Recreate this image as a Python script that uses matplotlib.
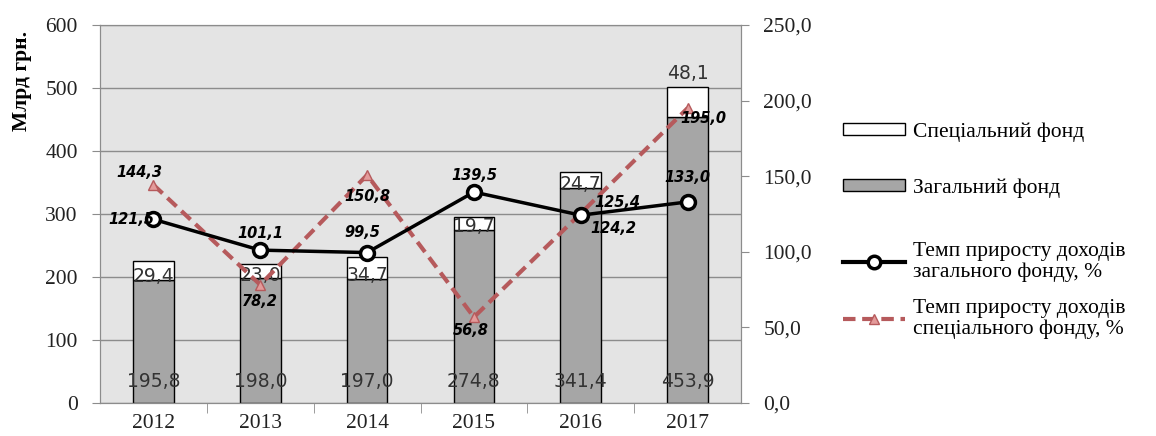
import matplotlib.pyplot as plt
from matplotlib.patches import Patch
from matplotlib.lines import Line2D
from matplotlib.ticker import FuncFormatter

# дані: доходи державного бюджету, млрд грн
years = ['2012', '2013', '2014', '2015', '2016', '2017']
zagalnyi = [195.8, 198.0, 197.0, 274.8, 341.4, 453.9]
spetsialnyi = [29.4, 23.0, 34.7, 19.7, 24.7, 48.1]
temp_zag = [121.5, 101.1, 99.5, 139.5, 124.2, 133.0]
temp_spec = [144.3, 78.2, 150.8, 56.8, 125.4, 195.0]

def fmt(v):
    return ('%.1f' % v).replace('.', ',')

serif = 'Liberation Serif'
fs = 15.5
x = range(len(years))

fig = plt.figure(figsize=(11.56, 4.36), dpi=100)
ax = fig.add_axes([100/1156, 1 - 403/436, 641/1156, 378/436])
ax.set_facecolor('#e4e4e4')

w = 0.38
ax.bar(x, zagalnyi, w, color='#a6a6a6', edgecolor='black', lw=1, zorder=2)
ax.bar(x, spetsialnyi, w, bottom=zagalnyi, color='white', edgecolor='black', lw=1, zorder=2)

ax.set_ylim(0, 600)
ax.set_xlim(-0.5, len(years) - 0.5)
ax.set_yticks(range(0, 601, 100))
ax.yaxis.grid(True, color='#8c8c8c', lw=1)
ax.set_axisbelow(True)
for s in ax.spines.values():
    s.set_color('#8c8c8c')
ax.tick_params(axis='y', colors='#8c8c8c', labelcolor='#222222', length=6, pad=10)
ax.set_xticks(list(x))
ax.set_xticklabels(years)
ax.tick_params(axis='x', length=0, pad=8, labelcolor='#222222')
ax.set_xticks([i + 0.5 for i in range(len(years) - 1)], minor=True)
ax.tick_params(axis='x', which='minor', length=7, color='#8c8c8c', direction='out')
for lab in ax.get_xticklabels() + ax.get_yticklabels():
    lab.set_fontfamily(serif)
    lab.set_fontsize(fs)
fig.text(22/1156, 1 - 81/436, 'Млрд грн.', rotation=90, ha='center', va='center',
         fontfamily=serif, fontsize=fs, fontweight='bold')

# підписи стовпців
for i in x:
    ax.text(i, 34, fmt(zagalnyi[i]), ha='center', va='center',
            fontsize=13.5, color='#333333', zorder=3)
spec_dy = [3, 3, 3, 3, 3, 44]
for i in x:
    ax.annotate(fmt(spetsialnyi[i]), (i, zagalnyi[i]), xytext=(0, spec_dy[i]),
                textcoords='offset pixels', ha='center', va='center',
                fontsize=13.5, color='#333333', zorder=3)

# права вісь: темпи приросту
ax2 = ax.twinx()
ax2.set_ylim(0, 250)
ax2.set_yticks(range(0, 251, 50))
ax2.yaxis.set_major_formatter(FuncFormatter(lambda v, p: fmt(v)))
ax2.tick_params(axis='y', colors='#8c8c8c', labelcolor='#222222', length=6, pad=10)
for s in ax2.spines.values():
    s.set_color('#8c8c8c')
for lab in ax2.get_yticklabels():
    lab.set_fontfamily(serif)
    lab.set_fontsize(fs)

red = '#b65a5c'
ax2.plot(x, temp_spec, color=red, lw=3, ls=(0, (3, 1.6)), marker='^',
         markersize=7, mfc='#e39a9a', mec=red, zorder=4)
ax2.plot(x, temp_zag, color='black', lw=2.5, marker='o', markersize=10,
         mfc='white', mec='black', mew=2.5, zorder=5)

off_zag = [(-22, 0), (0, 17), (-5, 20), (0, 17), (33, -13), (0, 24)]
off_spec = [(-14, 12), (0, -17), (0, -22), (-3, -13), (37, 11), (16, -10)]
for i in x:
    ax2.annotate(fmt(temp_zag[i]), (i, temp_zag[i]), xytext=off_zag[i],
                 textcoords='offset pixels', ha='center', va='center',
                 fontsize=10.5, fontweight='bold', fontstyle='italic', zorder=6)
    ax2.annotate(fmt(temp_spec[i]), (i, temp_spec[i]), xytext=off_spec[i],
                 textcoords='offset pixels', ha='center', va='center',
                 fontsize=10.5, fontweight='bold', fontstyle='italic', zorder=6)

# легенда
items = [
    (Patch(facecolor='white', edgecolor='black'), 'Спеціальний фонд', 132),
    (Patch(facecolor='#a6a6a6', edgecolor='black'), 'Загальний фонд', 188),
    (Line2D([], [], color='black', lw=3, marker='o', markersize=9, mfc='white',
            mec='black', mew=2.5), 'Темп приросту доходів\nзагального фонду, %', 262),
    (Line2D([], [], color=red, lw=3, ls=(0, (3, 1.6)), marker='^', markersize=7,
            mfc='#e39a9a', mec=red), 'Темп приросту доходів\nспеціального фонду, %', 319),
]
for h, lab, ypx in items:
    lg = fig.legend([h], [lab], loc='center left', bbox_to_anchor=(843/1156, 1 - ypx/436),
                    frameon=False, borderpad=0, borderaxespad=0, handlelength=2.9,
                    handleheight=0.5, handletextpad=0.33,
                    prop={'family': serif, 'size': fs})
    for t in lg.get_texts():
        t.set_linespacing(1.05)

fig.savefig('out.png', dpi=100)
